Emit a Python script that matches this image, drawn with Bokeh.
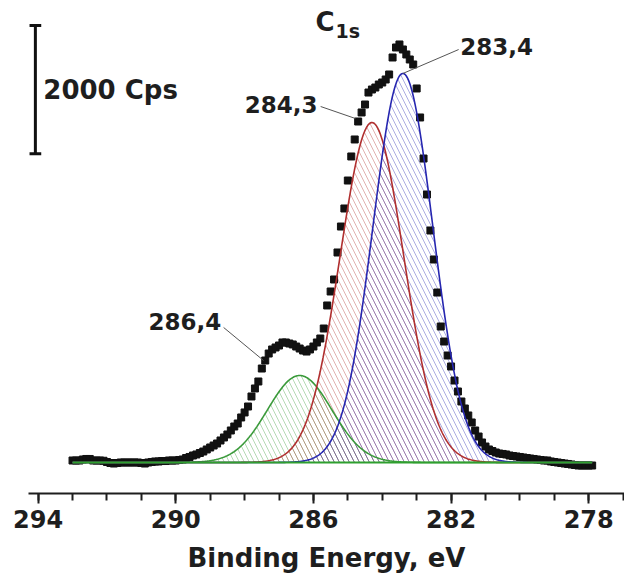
import numpy as np
from bokeh.plotting import figure
from bokeh.models import Range1d, FixedTicker
from bokeh.core.properties import value
from bokeh.embed import file_html
from bokeh.resources import INLINE

# C 1s region, measured with a 0.1 eV step from 293.0 eV down to 277.9 eV (cps)
e_start = 293.0
e_step = 0.1
counts = [
    1531, 1531, 1531, 1547, 1555, 1555, 1531, 1531, 1531, 1527,
    1508, 1492, 1484, 1492, 1500, 1500, 1500, 1500, 1500, 1500,
    1492, 1484, 1500, 1508, 1516, 1516, 1523, 1523, 1531, 1531,
    1531, 1539, 1547, 1570, 1586, 1609, 1625, 1648, 1671, 1703,
    1734, 1765, 1796, 1843, 1890, 1937, 1999, 2061, 2108, 2202,
    2280, 2373, 2529, 2654, 2763, 2965, 3090, 3199, 3262, 3293,
    3324, 3371, 3371, 3355, 3340, 3308, 3277, 3246, 3230, 3262,
    3308, 3371, 3433, 3589, 3948, 4166, 4353, 4774, 5179, 5460,
    5896, 6271, 6536, 6816, 6957, 7081, 7268, 7315, 7346, 7393,
    7424, 7471, 7549, 7814, 7970, 8017, 7939, 7861, 7783, 7705,
    7331, 6879, 6239, 5678, 5117, 4665, 4150, 3620, 3386, 3168,
    2997, 2778, 2607, 2451, 2342, 2233, 2124, 1999, 1905, 1812,
    1749, 1703, 1679, 1656, 1640, 1633, 1625, 1609, 1601, 1594,
    1586, 1578, 1570, 1562, 1555, 1547, 1539, 1531, 1531, 1516,
    1508, 1500, 1492, 1484, 1477, 1469, 1461, 1453, 1453, 1453,
    1453, 1453,
]
energy = np.round(e_start - e_step * np.arange(len(counts)), 2)

# fitted components (Gaussian): binding energy, height above background, FWHM
background = 1500
peak_labels = ["286,4", "284,3", "283,4"]
peak_centers = [286.4, 284.3, 283.4]
peak_heights = [1356, 5300, 6065]
peak_fwhm = [2.2, 2.18, 2.05]
peak_colors = ["#3a9a3a", "#b02f2f", "#2626b0"]

major_ticks = [294, 290, 286, 282, 278]
minor_ticks = list(range(277, 295))

scale_bar_cps = 2000
scale_bar_top = 8313

FONT = value("DejaVu Sans")
INK = "#1e1e1e"

p = figure(width=624, height=580, output_backend="svg", toolbar_location=None,
           x_range=Range1d(294.28, 276.96), y_range=Range1d(1016.7, 8702.6),
           min_border_left=28, min_border_right=0, min_border_top=0,
           min_border_bottom=87, y_axis_location=None)
p.outline_line_color = None
p.xgrid.visible = False
p.ygrid.visible = False
p.background_fill_color = "white"
p.border_fill_color = "white"

# fitted components: hatched area + outline
grid = np.linspace(energy[0], energy[-1], 700)
curves = []
for c, h, w, col in zip(peak_centers, peak_heights, peak_fwhm, peak_colors):
    y = background + h * np.exp(-4 * np.log(2) * (grid - c) ** 2 / w ** 2)
    curves.append(y)
    p.varea(x=grid, y1=np.full_like(grid, background), y2=y,
            fill_color=None, fill_alpha=0,
            hatch_pattern="left_diagonal_line", hatch_color=col,
            hatch_alpha=0.38, hatch_scale=10, hatch_weight=1)

# measured spectrum
p.scatter(energy, counts, marker="square", size=7,
          fill_color="#111111", line_color="#111111")

for y, col in zip(curves, peak_colors):
    p.line(grid, y, line_color=col, line_width=1.6)

# background line
p.line([energy[0], energy[-1]], [background, background],
       line_color="#2f9f2f", line_width=2)

# peak labels with leader lines
label_pos = [(290.79, 3698, "left"), (285.88, 7081, "right"), (281.73, 7985, "left")]
leader_start = [(288.61, 3605), (285.79, 7050), (281.78, 7938)]
leader_end = [(287.45, 3090), (284.78, 6863), None]
for i, txt in enumerate(peak_labels):
    lx, ly, al = label_pos[i]
    p.text([lx], [ly], text=[txt], text_font=FONT, text_font_style="bold",
           text_font_size="23px", text_color=INK, text_align=al,
           text_baseline="middle")
    sx, sy = leader_start[i]
    end = leader_end[i]
    if end is None:
        end = (peak_centers[i], background + peak_heights[i])
    p.segment([sx], [sy], [end[0]], [end[1]], line_color="#555555", line_width=1)

# C 1s title
p.text([285.94], [8375], text=["C"], text_font=FONT, text_font_style="bold",
       text_font_size="26px", text_color=INK, text_baseline="middle")
p.text([285.36], [8227], text=["1s"], text_font=FONT, text_font_style="bold",
       text_font_size="19px", text_color=INK, text_baseline="middle")

# intensity scale bar
bar_x = 294.08
bar_bottom = scale_bar_top - scale_bar_cps
p.segment([bar_x], [bar_bottom], [bar_x], [scale_bar_top], line_color="#111111", line_width=3)
p.segment([294.25, 294.25], [bar_bottom, scale_bar_top], [293.91, 293.91],
          [bar_bottom, scale_bar_top], line_color="#111111", line_width=3)
p.text([293.85], [(bar_bottom + scale_bar_top) / 2], text=[f"{scale_bar_cps} Cps"],
       text_font=FONT, text_font_style="bold", text_font_size="26px",
       text_color=INK, text_baseline="middle")

# x axis
ax = p.xaxis[0]
ax.ticker = FixedTicker(ticks=major_ticks, minor_ticks=minor_ticks)
ax.axis_line_width = 2
ax.axis_line_color = INK
ax.major_tick_line_width = 2
ax.major_tick_line_color = INK
ax.minor_tick_line_width = 2
ax.minor_tick_line_color = INK
ax.major_tick_in = 0
ax.major_tick_out = 10
ax.minor_tick_in = 0
ax.minor_tick_out = 7
ax.major_label_text_font = "DejaVu Sans"
ax.major_label_text_font_style = "bold"
ax.major_label_text_font_size = "24px"
ax.major_label_text_color = INK
ax.major_label_standoff = 6
ax.axis_label = "Binding Energy, eV"
ax.axis_label_text_font = "DejaVu Sans"
ax.axis_label_text_font_style = "bold"
ax.axis_label_text_font_size = "26px"
ax.axis_label_text_color = INK
ax.axis_label_standoff = 12

open("out.html", "w").write(file_html(p, INLINE))
